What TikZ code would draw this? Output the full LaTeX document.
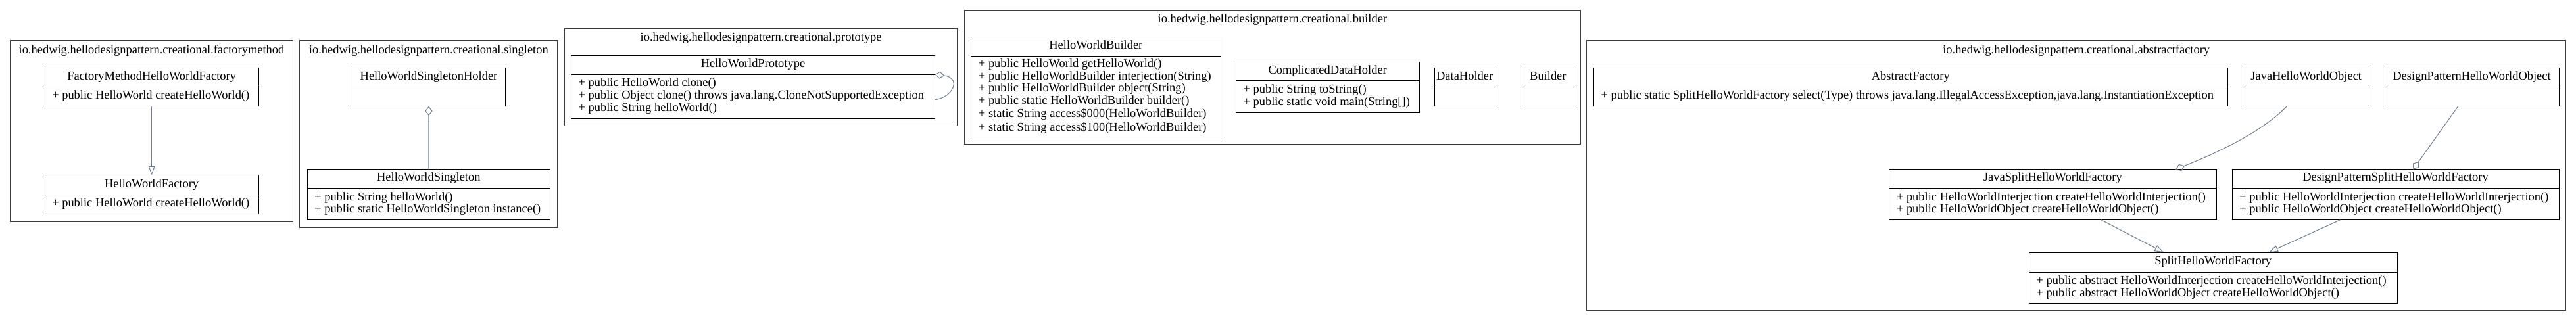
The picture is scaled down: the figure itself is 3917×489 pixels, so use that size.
\documentclass[tikz,border=0pt]{standalone}
\usepackage{fontspec}
\setmainfont{Liberation Serif}
\usetikzlibrary{arrows.meta,fit,calc}
\definecolor{edgecol}{RGB}{112,128,144}
\definecolor{clustcol}{RGB}{60,60,60}
\tikzset{
  every node/.style={font=\fontsize{14}{14.27}\selectfont},
  pkg/.style={draw=clustcol, line width=1.1pt, inner sep=0pt, outer sep=0pt},
  pkgtitle/.style={inner sep=0pt},
  clsbox/.style={draw=black, line width=0.76pt, inner sep=0pt, outer sep=0pt},
  divider/.style={draw=black, line width=0.76pt},
  clstitle/.style={inner sep=0pt},
  clsbody/.style={anchor=west, align=left, inner sep=0pt},
  gen/.style={draw=edgecol, line width=0.8pt, -{Triangle[open, length=10.6pt, width=7.6pt]}},
  aggr/.style={draw=edgecol, line width=0.8pt, -{Diamond[open, length=11pt, width=8.4pt]}},
}
% name, x1, y1, x2, ydiv, y2, title, body
\newcommand\umlcls[8]{%
  \node[clsbox, fit={(#2,#3) (#4,#6)}] (#1) {};
  \draw[divider] (#2,#5) -- (#4,#5);
  \node[clstitle] (#1-t) at ({(#2+#4)/2},{(#3+#5)/2}) {\strut #7};
  \node[clsbody] (#1-b) at ({#2+11},{(#5+#6)/2}) {#8};
}
% name, x1, y1, x2, y2, title
\newcommand\umlpkg[6]{%
  \node[pkg, fit={(#2,#3) (#4,#5)}] (#1) {};
  \node[pkgtitle] (#1-t) at ({(#2+#4)/2},{#3+15.7}) {\strut #6};
}
\begin{document}
\begin{tikzpicture}[x=0.7588pt, y=-0.7588pt]
\fill[white] (0,0) rectangle (3917,489);
\useasboundingbox (0,0) rectangle (3917,489);

% packages
\umlpkg{pkgfm}{15.7}{62}{445.3}{337}{io.hedwig.hellodesignpattern.creational.factorymethod}
\umlpkg{pkgsg}{455.7}{62}{848}{346}{io.hedwig.hellodesignpattern.creational.singleton}
\umlpkg{pkgpt}{858.3}{43.3}{1456}{191.7}{io.hedwig.hellodesignpattern.creational.prototype}
\umlpkg{pkgbd}{1466.7}{15.3}{2403}{219.3}{io.hedwig.hellodesignpattern.creational.builder}
\umlpkg{pkgaf}{2412.7}{62}{3901.7}{472.7}{io.hedwig.hellodesignpattern.creational.abstractfactory}

% factory method
\umlcls{FMF}{68}{103}{393.3}{132.3}{161.7}{FactoryMethodHelloWorldFactory}{\strut+ public HelloWorld createHelloWorld()}
\umlcls{HWF}{68}{266.7}{393.3}{296}{325.7}{HelloWorldFactory}{\strut+ public HelloWorld createHelloWorld()}

% singleton
\umlcls{HWSH}{535.7}{103}{768.3}{132.3}{161.7}{HelloWorldSingletonHolder}{}
\umlcls{HWS}{467}{257.7}{836.7}{286.7}{334.7}{HelloWorldSingleton}{\strut+ public String helloWorld()\\\strut+ public static HelloWorldSingleton instance()}

% prototype
\umlcls{HWP}{868.3}{84.3}{1421.7}{113.3}{180.3}{HelloWorldPrototype}{\strut+ public HelloWorld clone()\\\strut+ public Object clone() throws java.lang.CloneNotSupportedException\\\strut+ public String helloWorld()}

% builder
\umlcls{HWB}{1476.7}{56.7}{1856}{85.7}{208.3}{HelloWorldBuilder}{\strut+ public HelloWorld getHelloWorld()\\\strut+ public HelloWorldBuilder interjection(String)\\\strut+ public HelloWorldBuilder object(String)\\\strut+ public static HelloWorldBuilder builder()\\\strut+ static String access\$000(HelloWorldBuilder)\\\strut+ static String access\$100(HelloWorldBuilder)}
\umlcls{CDH}{1879.3}{94}{2158}{122.7}{171}{ComplicatedDataHolder}{\strut+ public String toString()\\\strut+ public static void main(String[])}
\umlcls{DH}{2181.3}{103.2}{2273}{132.5}{161.8}{DataHolder}{}
\umlcls{BLD}{2314.7}{103.2}{2393}{132.5}{161.8}{Builder}{}

% abstract factory
\umlcls{AF}{2423.3}{103}{3387.3}{132.3}{161.7}{AbstractFactory}{\strut+ public static SplitHelloWorldFactory select(Type) throws java.lang.IllegalAccessException,java.lang.InstantiationException}
\umlcls{JHWO}{3410.7}{103}{3602.7}{132.3}{161.7}{JavaHelloWorldObject}{}
\umlcls{DPHWO}{3626}{103}{3891}{132.3}{161.7}{DesignPatternHelloWorldObject}{}
\umlcls{JSF}{2872.7}{257.7}{3370}{286.7}{334.7}{JavaSplitHelloWorldFactory}{\strut+ public HelloWorldInterjection createHelloWorldInterjection()\\\strut+ public HelloWorldObject createHelloWorldObject()}
\umlcls{DPSF}{3394}{257.7}{3891}{286.7}{334.7}{DesignPatternSplitHelloWorldFactory}{\strut+ public HelloWorldInterjection createHelloWorldInterjection()\\\strut+ public HelloWorldObject createHelloWorldObject()}
\umlcls{SHWF}{3085.3}{384}{3645}{414}{461.7}{SplitHelloWorldFactory}{\strut+ public abstract HelloWorldInterjection createHelloWorldInterjection()\\\strut+ public abstract HelloWorldObject createHelloWorldObject()}

% connectors
\draw[gen] (FMF.south) -- (HWF.north);
\draw[aggr] (HWS.north) -- (HWSH.south);
\draw[aggr] ($(HWP.east)+(0,19.4)$) .. controls +(28.3,-3.7) and +(40.3,4.7) .. ($(HWP.east)+(0,-19)$);
\draw[gen] ($(JSF.south)+(73.65,0)$) -- ($(SHWF.north)+(-75.15,0)$);
\draw[gen] ($(DPSF.south)+(-84.2,0)$) -- ($(SHWF.north)+(84.85,0)$);
\draw[aggr] ($(JHWO.south)+(-29.4,0)$) .. controls +(-32.3,33.3) and +(81.7,-32.7) .. ($(JSF.north)+(186.95,0)$);
\draw[aggr] ($(DPHWO.south)+(-20.8,0)$) -- ($(DPSF.north)+(26.8,0)$);
\end{tikzpicture}
\end{document}
